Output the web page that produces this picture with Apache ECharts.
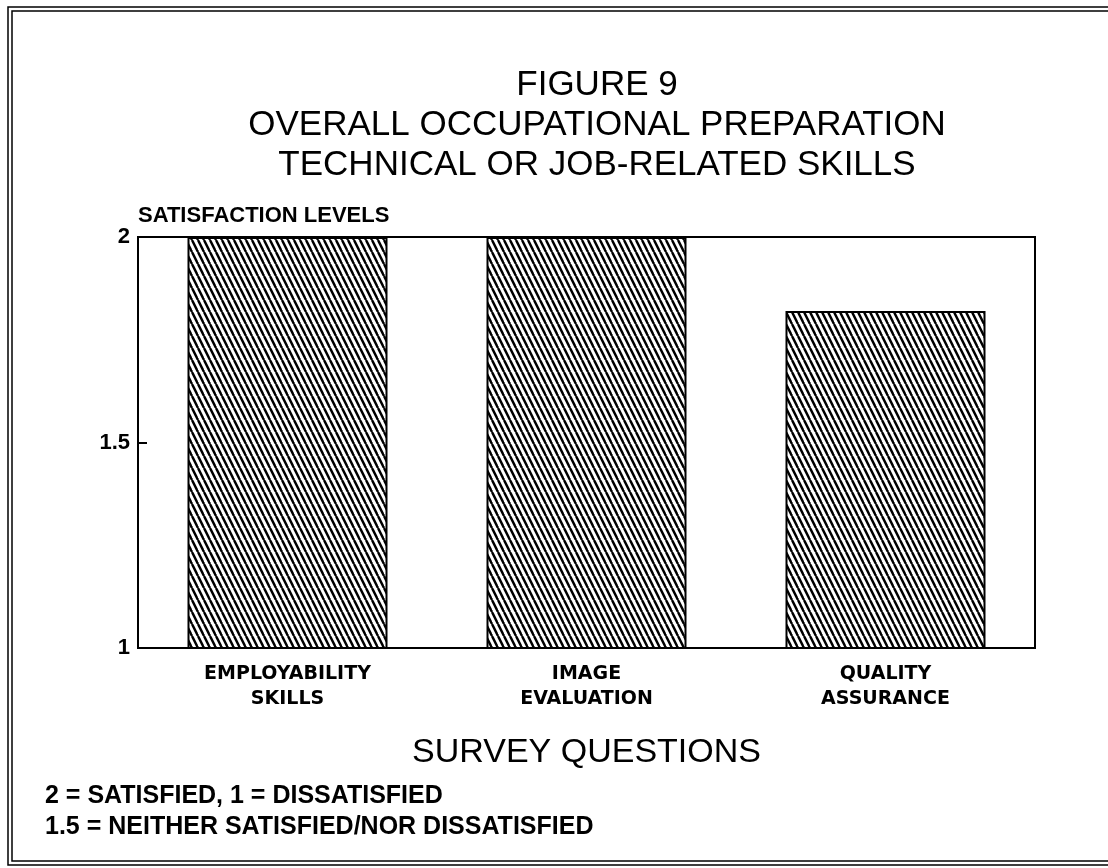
<!DOCTYPE html>
<html>
<head>
<meta charset="utf-8">
<title>Figure 9</title>
<script src="https://cdn.jsdelivr.net/npm/echarts@6/dist/echarts.min.js"></script>
<style>
    html, body { margin: 0; padding: 0; background: #fff; }
    #chart { width: 1108px; height: 868px; }
</style>
</head>
<body>
<div id="chart"></div>
<script>
// Data
const categories = ['EMPLOYABILITY\nSKILLS', 'IMAGE\nEVALUATION', 'QUALITY\nASSURANCE'];
const satisfaction = [2.0, 2.0, 1.82];
const yTicks = [1, 1.5, 2];

const titleLines = [
    'FIGURE 9',
    'OVERALL OCCUPATIONAL PREPARATION',
    'TECHNICAL OR JOB-RELATED SKILLS'
];
const footnotes = [
    '2 = SATISFIED, 1 = DISSATISFIED',
    '1.5 = NEITHER SATISFIED/NOR DISSATISFIED'
];

// Diagonal hatch fill, lines running top-left to bottom-right
function makeHatch() {
    const c = document.createElement('canvas');
    c.width = 6;
    c.height = 12;
    const ctx = c.getContext('2d');
    ctx.fillStyle = '#fff';
    ctx.fillRect(0, 0, 6, 12);
    ctx.strokeStyle = '#000';
    ctx.lineWidth = 2.4;
    [-6, 0, 6].forEach(function (dx) {
        ctx.beginPath();
        ctx.moveTo(dx, 0);
        ctx.lineTo(dx + 6, 12);
        ctx.stroke();
    });
    return c;
}

function initChart() {
    const el = document.getElementById('chart');
    const chart = echarts.init(el);

    const option = {
        backgroundColor: '#fff',
        animation: false,
        title: {
            text: titleLines.join('\n'),
            left: 592,
            top: 60,
            textAlign: 'center',
            textStyle: {
                fontFamily: 'Liberation Sans',
                fontWeight: 'normal',
                fontSize: 35,
                lineHeight: 40,
                color: '#000'
            }
        },
        grid: {
            left: 138,
            right: 73,
            top: 237,
            bottom: 220,
            show: true,
            borderColor: '#000',
            borderWidth: 2
        },
        xAxis: {
            type: 'category',
            data: categories,
            axisLine: { lineStyle: { color: '#000', width: 2 } },
            axisTick: { show: false },
            axisLabel: {
                margin: 14,
                color: '#000',
                fontFamily: 'DejaVu Sans',
                fontWeight: 'bold',
                fontSize: 19,
                lineHeight: 25
            },
            name: 'SURVEY QUESTIONS',
            nameLocation: 'middle',
            nameGap: 88,
            nameTextStyle: {
                color: '#000',
                fontFamily: 'Liberation Sans',
                fontSize: 34
            }
        },
        yAxis: {
            type: 'value',
            min: yTicks[0],
            max: yTicks[yTicks.length - 1],
            interval: 0.5,
            axisLine: { show: true, lineStyle: { color: '#000', width: 2 } },
            axisTick: { show: true, inside: true, length: 9, lineStyle: { color: '#000', width: 2 } },
            splitLine: { show: false },
            axisLabel: {
                margin: 8,
                color: '#000',
                fontFamily: 'Liberation Sans',
                fontWeight: 'bold',
                fontSize: 22,
                formatter: function (v) { return String(v); }
            },
            name: 'SATISFACTION LEVELS',
            nameLocation: 'end',
            nameGap: 10,
            nameTextStyle: {
                align: 'left',
                color: '#000',
                fontFamily: 'Liberation Sans',
                fontWeight: 'bold',
                fontSize: 22
            }
        },
        series: [{
            type: 'bar',
            data: satisfaction,
            barWidth: 200,
            itemStyle: {
                color: { image: makeHatch(), repeat: 'repeat' },
                borderColor: '#000',
                borderWidth: 2
            }
        }],
        graphic: [
            {
                type: 'rect',
                shape: { x: 8, y: 7, width: 1200, height: 858 },
                style: { fill: 'none', stroke: '#000', lineWidth: 1.5 }
            },
            {
                type: 'rect',
                shape: { x: 12, y: 11, width: 1200, height: 850 },
                style: { fill: 'none', stroke: '#000', lineWidth: 1.5 }
            },
            {
                type: 'text',
                left: 45,
                top: 781,
                style: {
                    text: footnotes.join('\n'),
                    fill: '#000',
                    font: 'bold 25px "Liberation Sans"',
                    lineHeight: 31
                }
            }
        ]
    };

    chart.setOption(option);
    window.addEventListener('resize', function () { chart.resize(); });
}

document.addEventListener('DOMContentLoaded', initChart);
</script>
</body>
</html>
